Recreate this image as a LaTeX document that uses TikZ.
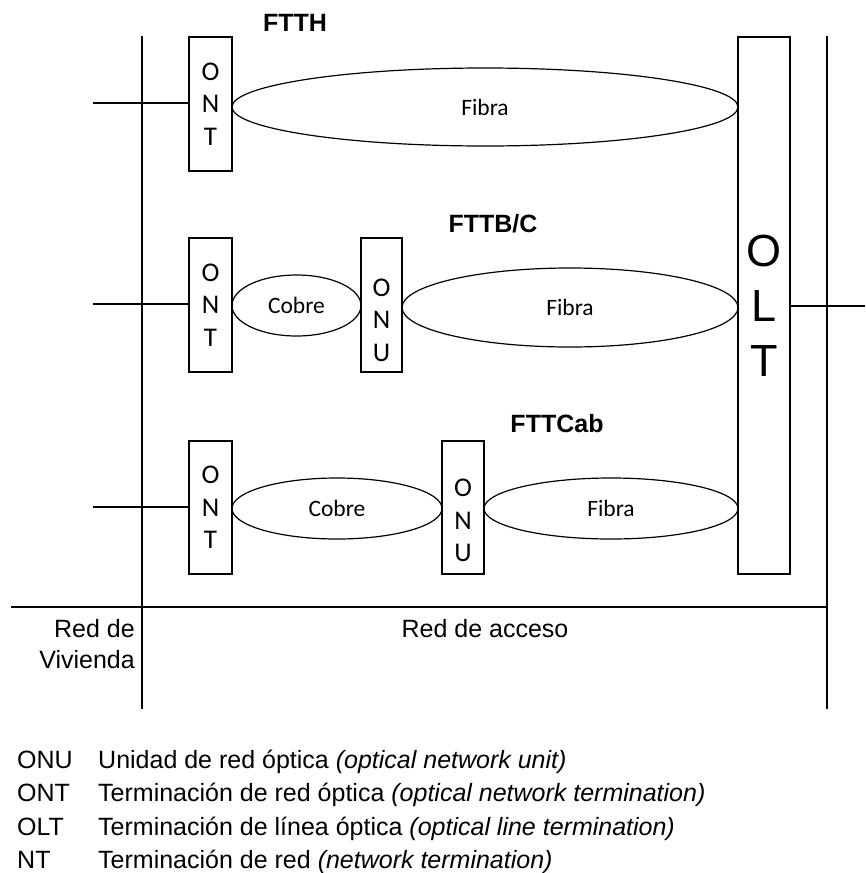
\documentclass[tikz,border=0pt]{standalone}
\usepackage{fontspec}
\setmainfont{Liberation Sans}
\newfontfamily\carlito{Carlito}
\usetikzlibrary{shapes.geometric}
\begin{document}
\begin{tikzpicture}[x=1pt,y=-1pt,
  box/.style={draw, line width=1.4pt, inner sep=0pt, outer sep=0pt, minimum width=43pt, minimum height=134pt},
  ell/.style={draw, ellipse, line width=1.2pt, inner sep=0pt, outer sep=0pt, font=\carlito\fontsize{23.5}{28}\selectfont},
  let/.style={align=center, font=\carlito\fontsize{27}{32.5}\selectfont, inner sep=0pt},
  ttl/.style={font=\bfseries\fontsize{25}{30}\selectfont, anchor=base, inner sep=0pt},
  lbl/.style={font=\fontsize{25}{32}\selectfont, inner sep=0pt},
  leg/.style={font=\fontsize{25}{32}\selectfont, inner sep=0pt, anchor=base west},
  ln/.style={line width=1.4pt}]
\useasboundingbox (0,0) rectangle (865,873);
\fill[white] (0,0) rectangle (865,873);

% frame lines
\coordinate (vl1) at (142,36); \coordinate (vl2) at (142,709);
\coordinate (vr1) at (827,36); \coordinate (vr2) at (827,709);
\coordinate (hl1) at (11,607); \coordinate (hl2) at (828,607);
\draw[ln] (vl1) -- (vl2);
\draw[ln] (vr1) -- (vr2);
\draw[line width=2pt] (hl1) -- (hl2);

% OLT
\node[box, minimum width=52pt, minimum height=537pt, align=center, font=\fontsize{45}{55}\selectfont] (olt) at (764,305.5) {O\\L\\T};

% row 1 FTTH
\node[box, let] (ont1) at (210.5,104) {O\\N\\T};
\node[ell, minimum width=506pt, minimum height=78pt] (f1) at (485,107) {Fibra};
\coordinate (in1) at (93,103);
\draw[ln] (in1) -- (ont1.west |- in1);
\node[ttl] (t1) at (295,31) {FTTH};

% row 2 FTTB/C
\node[box, let] (ont2) at (210.5,305) {O\\N\\T};
\node[ell, minimum width=129pt, minimum height=61pt] (c2) at (296.5,305.5) {Cobre};
\node[box, minimum width=41pt] (onu2) at (381.5,305) {};
\node[let, yshift=-15pt] (onu2t) at (onu2.center) {O\\N\\U};
\node[ell, minimum width=336pt, minimum height=79pt] (f2) at (570,307.5) {Fibra};
\coordinate (in2) at (93,304);
\draw[ln] (in2) -- (ont2.west |- in2);
\coordinate (out2) at (865,306);
\draw[ln] (olt.east |- out2) -- (out2);
\node[ttl] (t2) at (493,232) {FTTB/C};

% row 3 FTTCab
\node[box, let, minimum height=133pt] (ont3) at (210.5,507.5) {O\\N\\T};
\node[ell, minimum width=210pt, minimum height=61pt] (c3) at (337,508.5) {Cobre};
\node[box, minimum width=42pt, minimum height=133pt] (onu3) at (463,507.5) {};
\node[let, yshift=-13pt] (onu3t) at (onu3.center) {O\\N\\U};
\node[ell, minimum width=254pt, minimum height=61pt] (f3) at (611,508.5) {Fibra};
\coordinate (in3) at (93,507);
\draw[ln] (in3) -- (ont3.west |- in3);
\node[ttl] (t3) at (557,432) {FTTCab};

% section labels
\node[lbl, anchor=base east] (rv1) at (135,637) {Red de};
\node[lbl, anchor=base east] (rv2) at (135,668) {Vivienda};
\node[lbl, anchor=base] (ra) at (485,637) {Red de acceso};

% legend
\node[leg] (k1) at (17,768) {ONU};
\node[leg] (d1) at (98,768) {Unidad de red óptica \textit{(optical network unit)}};
\node[leg] (k2) at (17,801.5) {ONT};
\node[leg] (d2) at (98,801.5) {Terminación de red óptica \textit{(optical network termination)}};
\node[leg] (k3) at (17,835) {OLT};
\node[leg] (d3) at (98,835) {Terminación de línea óptica \textit{(optical line termination)}};
\node[leg] (k4) at (17,868) {NT};
\node[leg] (d4) at (98,868) {Terminación de red \textit{(network termination)}};
\end{tikzpicture}
\end{document}
